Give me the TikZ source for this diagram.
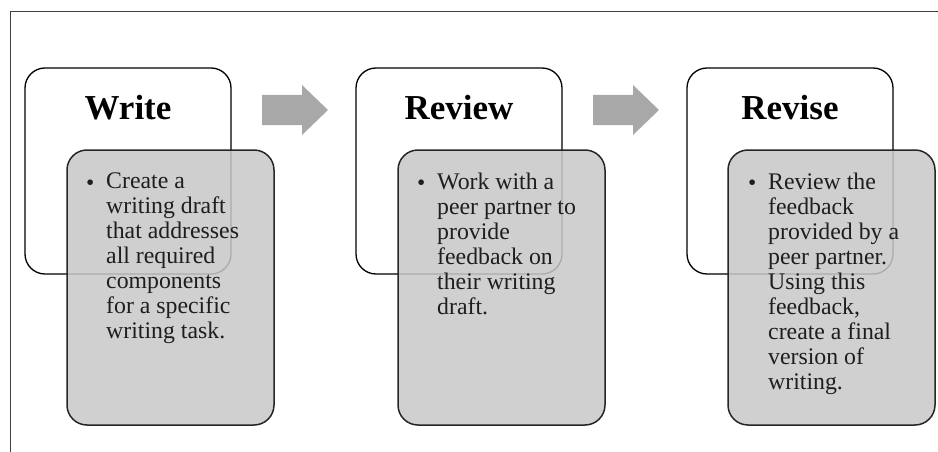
\documentclass[tikz,border=0pt]{standalone}
\usepackage{fontspec}
\setmainfont{Liberation Serif}
\definecolor{boxgray}{HTML}{C8C8C8}
\definecolor{arrowgray}{HTML}{A8A8A8}
\definecolor{bodytext}{HTML}{1E1E1E}
\definecolor{framegray}{HTML}{404040}
\begin{document}
\begin{tikzpicture}[x=1pt,y=-1pt,
  wbox/.style={draw=black,line width=1.3pt,rounded corners=20pt,fill=white,
    minimum width=206pt,minimum height=206pt,inner sep=0pt},
  gbox/.style={draw=black!85,line width=1.5pt,rounded corners=20pt,fill=boxgray,fill opacity=0.86,
    minimum width=207pt,minimum height=275pt,inner sep=0pt},
  title/.style={anchor=base,font=\fontsize{35}{40}\selectfont\bfseries,inner sep=0pt},
  bul/.style={anchor=base west,font=\fontsize{23.5}{25}\selectfont,text=bodytext,inner sep=0pt},
  body/.style={anchor=base west,font=\fontsize{23.8}{25}\selectfont,text=bodytext,inner sep=0pt,
    align=left},
  flow/.style={fill=arrowgray,draw=none}]
\useasboundingbox (0,0) rectangle (938,452);
\draw[framegray,line width=1pt] (10,452) -- (10,12) -- (938,12);

% step 1
\node[wbox] (w1) at (128,171) {};
\node[gbox] (g1) at (170.5,287.5) {};
\node[title] (t1) at (128,119) {Write};
\node[bul] (b1) at (86,190) {\textbullet};
\node[body,anchor=north west] (x1) at (106,173) {Create a\\writing draft\\that addresses\\all required\\components\\for a specific\\writing task.};

% step 2
\node[wbox] (w2) at (459,171) {};
\node[gbox] (g2) at (501.5,287.5) {};
\node[title] (t2) at (459,119) {Review};
\node[bul] (b2) at (417,190) {\textbullet};
\node[body,anchor=north west] (x2) at (437,173) {Work with a\\peer partner to\\provide\\feedback on\\their writing\\draft.};

% step 3
\node[wbox] (w3) at (790,171) {};
\node[gbox] (g3) at (831.5,287.5) {};
\node[title] (t3) at (790,119) {Revise};
\node[bul] (b3) at (748,190) {\textbullet};
\node[body,anchor=north west] (x3) at (768,173) {Review the\\feedback\\provided by a\\peer partner.\\Using this\\feedback,\\create a final\\version of\\writing.};

% arrows
\fill[flow] (262,95) -- (302,95) -- (302,85) -- (328,110) -- (302,135) -- (302,125) -- (262,125) -- cycle;
\fill[flow] (593,95) -- (633,95) -- (633,85) -- (659,110) -- (633,135) -- (633,125) -- (593,125) -- cycle;
\end{tikzpicture}
\end{document}
